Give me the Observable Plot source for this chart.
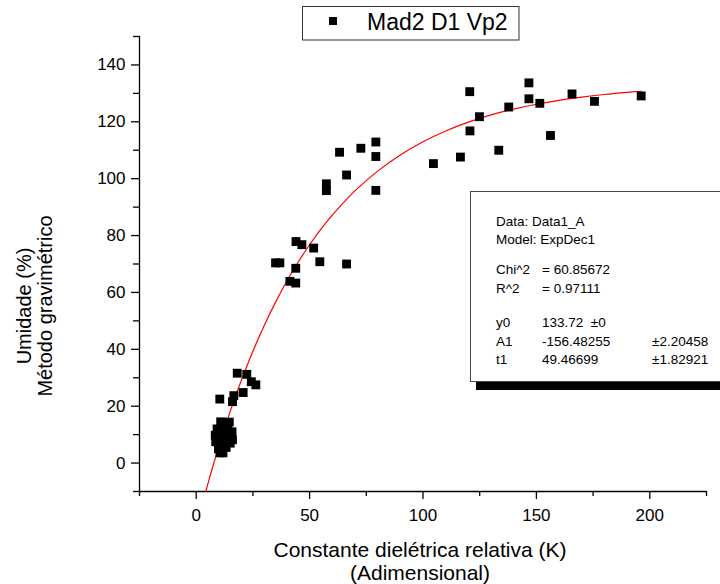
<!DOCTYPE html>
<html>
<head>
<meta charset="utf-8">
<script src="https://cdn.jsdelivr.net/npm/d3@7"></script>
<script src="https://cdn.jsdelivr.net/npm/@observablehq/plot@0.6"></script>
<style>
  html, body { margin: 0; padding: 0; background: #fff; }
  #chart { width: 720px; height: 584px; overflow: hidden; }
</style>
</head>
<body>
<div id="chart"></div>
<script>
// ---- Data ----
const seriesName = "Mad2 D1 Vp2";

// Constante dielétrica relativa (K)
const kValues = [
  120.6, 124.9, 120.7, 116.5, 133.4, 137.8, 146.7, 146.7, 151.5, 156.2, 165.7, 175.6, 196.2,
  63.2, 72.6, 79.2, 79.2, 66.3, 57.4, 57.4, 79.2, 104.6,
  44.0, 46.6, 51.8, 54.5, 66.3, 43.9, 35.0, 36.9, 41.3, 43.9,
  18.1, 22.3, 24.3, 26.3, 20.7, 16.6, 16.0, 10.4,
  10.8, 12.8, 14.6, 9.2, 11.5, 13.8, 15.8, 8.4, 10.5, 12.5, 14.6, 16.0,
  8.6, 10.5, 12.8, 15.0, 9.8, 11.5, 13.2, 10.5, 11.8
];
// Umidade (%) – método gravimétrico
const moisture = [
  130.6, 121.8, 116.8, 107.6, 110.0, 125.2, 133.7, 128.1, 126.5, 115.2, 129.8, 127.2, 129.1,
  109.3, 110.7, 112.9, 107.8, 101.3, 98.2, 95.8, 95.9, 105.3,
  77.9, 76.8, 75.6, 70.8, 70.0, 68.5, 70.4, 70.4, 63.9, 63.3,
  31.6, 31.2, 28.6, 27.5, 24.8, 23.7, 21.6, 22.5,
  14.5, 14.0, 14.4, 12.0, 12.2, 11.5, 11.0, 9.8, 10.0, 9.5, 8.8, 8.2,
  7.5, 7.0, 7.8, 7.0, 5.0, 4.5, 5.5, 3.6, 3.6
];

// ExpDec1 fit parameters shown in the chart
const fitY0 = 133.72;
const fitA1 = -156.48255;
const fitT1 = 49.46699;
// K values at which the fitted curve is drawn
const curveK = [4.21, 6, 8, 10, 12, 15, 18, 21, 25, 30, 35, 40, 45, 50, 55, 60, 70, 80, 90,
                100, 110, 120, 130, 140, 150, 160, 170, 180, 190, 196.2];

// Axis ticks
const xMajorTicks = [0, 50, 100, 150, 200];
const xMinorTicks = [-25, 25, 75, 125, 175, 225];
const yMajorTicks = [0, 20, 40, 60, 80, 100, 120, 140];
const yMinorTicks = [-10, 10, 30, 50, 70, 90, 110, 130, 150];

// Texts
const xTitleLines = ["Constante dielétrica relativa (K)", "(Adimensional)"];
const yTitleLines = ["Umidade (%)", "Método gravimétrico"];
const statsLines = [
  ["Data: Data1_A", "", ""],
  ["Model: ExpDec1", "", ""],
  ["Chi^2", "= 60.85672", ""],
  ["R^2", "= 0.97111", ""],
  ["y0", "133.72  ±0", ""],
  ["A1", "-156.48255", "±2.20458"],
  ["t1", "49.46699", "±1.82921"]
];

// ---- Build tables ----
const points = kValues.map((k, i) => ({k, u: moisture[i]}));
const curve = curveK.map(k => ({k, u: fitY0 + fitA1 * Math.exp(-k / fitT1)}));

const FONT = "'Liberation Sans', Arial, Helvetica, sans-serif";

const plot = Plot.plot({
  width: 720,
  height: 584,
  marginLeft: 139,
  marginRight: 14,
  marginTop: 36,
  marginBottom: 93,
  x: {domain: [-25, 225]},
  y: {domain: [-10, 150]},
  style: {fontFamily: FONT, fontSize: "17px", color: "black", background: "white", overflow: "visible"},
  marks: [
    Plot.axisX({ticks: xMajorTicks, tickSize: 8, tickPadding: 9, label: null, strokeWidth: 1.3}),
    Plot.axisX({ticks: xMinorTicks, tickSize: 5, text: null, label: null, strokeWidth: 1.3}),
    Plot.axisY({ticks: yMajorTicks, tickSize: 8, tickPadding: 6, label: null, strokeWidth: 1.3}),
    Plot.axisY({ticks: yMinorTicks, tickSize: 6, text: null, label: null, strokeWidth: 1.3}),
    Plot.ruleX([-25], {stroke: "black", strokeWidth: 1.3}),
    Plot.ruleY([-10], {stroke: "black", strokeWidth: 1.3}),
    Plot.line(curve, {x: "k", y: "u", stroke: "red", strokeWidth: 1.2, curve: "catmull-rom"}),
    Plot.dot(points, {x: "k", y: "u", symbol: "square", r: 5, fill: "black", stroke: "none"})
  ]
});

document.getElementById("chart").appendChild(plot);

// ---- Annotations (titles, legend, fit report) ----
const svg = d3.select(plot);
const ann = svg.append("g").attr("font-family", FONT).attr("fill", "black")
  .attr("text-anchor", "start");

// x title
xTitleLines.forEach((t, i) => {
  ann.append("text").attr("x", 420).attr("y", 557 + i * 22.5)
    .attr("text-anchor", "middle").attr("font-size", 21).text(t);
});
// y title
yTitleLines.forEach((t, i) => {
  ann.append("text").attr("transform", `translate(${31 + i * 21},306) rotate(-90)`)
    .attr("text-anchor", "middle").attr("font-size", 20).text(t);
});

// legend
const lg = ann.append("g");
lg.append("rect").attr("x", 302.5).attr("y", 6.5).attr("width", 216.5).attr("height", 33.5)
  .attr("fill", "white").attr("stroke", "#333").attr("stroke-width", 1);
lg.append("rect").attr("x", 329).attr("y", 17).attr("width", 8).attr("height", 8).attr("fill", "black");
lg.append("text").attr("x", 367).attr("y", 29.5).attr("font-size", 23)
  .attr("text-anchor", "start").text(seriesName);

// fit report box
const rb = ann.append("g");
rb.append("rect").attr("x", 476).attr("y", 382).attr("width", 260).attr("height", 8).attr("fill", "black");
rb.append("rect").attr("x", 470.5).attr("y", 191.5).attr("width", 270).attr("height", 190)
  .attr("fill", "white").attr("stroke", "#444").attr("stroke-width", 1);
const baselines = [225.7, 244.3, 274.3, 293.3, 326.7, 345.7, 364.3];
const cols = [496, 542, 652];
statsLines.forEach((row, i) => {
  row.forEach((t, j) => {
    if (t) rb.append("text").attr("x", cols[j]).attr("y", baselines[i]).attr("font-size", 13.5)
      .attr("text-anchor", "start")
      .attr("xml:space", "preserve").style("white-space", "pre").text(t);
  });
});
</script>
</body>
</html>
